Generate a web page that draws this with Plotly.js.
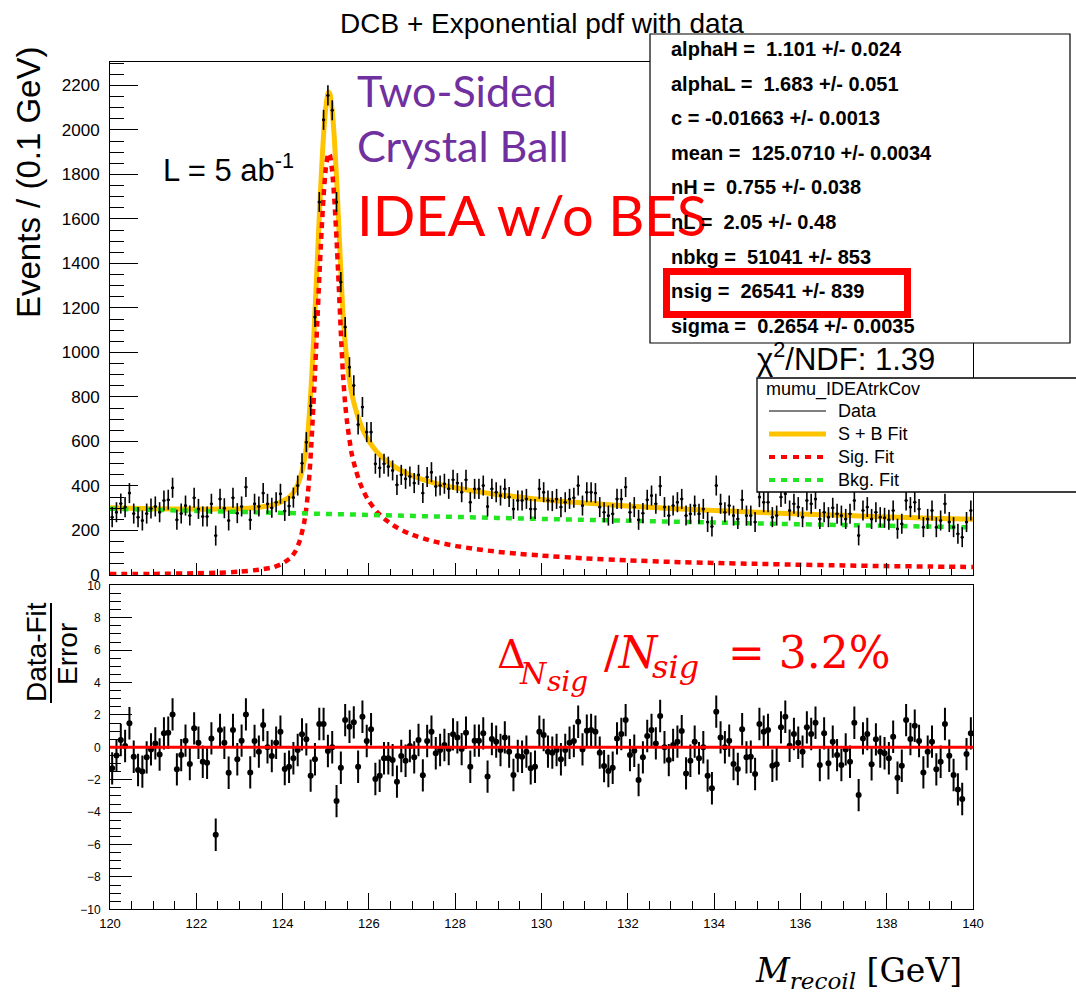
<!DOCTYPE html>
<html><head><meta charset="utf-8">
<script src="https://cdn.plot.ly/plotly-3.0.1.min.js"></script>
<style>html,body{margin:0;padding:0;background:#fff}</style>
</head><body><div id="chart" style="width:1076px;height:993px"></div>
<script>
// ---- data ----
const binStart = 120.05;   // first bin centre (GeV)
const binWidth = 0.1;      // GeV
const eventsData = [
 260,282,321,305,368,276,260,245,276,299,
 308,282,335,338,392,248,276,312,267,347,
 297,263,263,320,177,342,300,245,347,278,
 308,395,248,320,308,368,320,302,327,365,
 288,310,348,402,502,597,760,1159,1676,2045,
 2155,2088,1676,1316,1114,934,852,676,755,642,
 642,500,482,500,487,470,405,450,432,443,
 413,450,368,440,462,398,402,410,387,428,
 413,372,428,327,387,387,402,308,387,372,
 357,387,350,297,335,335,342,297,297,387,
 372,335,332,342,305,327,342,347,402,312,
 372,372,368,305,282,267,275,342,342,395,
 282,305,248,278,338,357,320,400,305,267,
 312,327,342,267,275,312,275,297,238,218,
 402,320,282,312,267,252,338,267,267,238,
 350,327,327,260,267,350,365,290,320,305,
 260,335,320,342,252,282,260,302,275,267,
 252,275,335,178,290,305,252,282,260,257,
 248,290,208,230,335,305,327,297,215,252,
 290,215,245,320,238,215,185,170,238,290];
const dataError = 45;
const pullValues = [
 -1.3,-0.5,0.45,0.08,1.48,-0.58,-1.4,-1.5,-0.62,-0.13,
 0.24,-0.44,0.86,0.9,2.03,-1.36,-0.48,0.41,-1.03,1.17,
 0.28,-0.89,-0.95,0.55,-5.4,1.07,0.28,-1.57,1.07,-0.74,
 0.41,2.03,-1.55,0.39,-0.27,1.38,0,-0.54,0.28,0.96,
 -1.34,-1.2,-0.68,-0.17,0.8,0.49,-1.75,-0.74,1.44,1.44,
 -0.23,0,-3.32,-1.26,1.68,1.27,1.54,-1.2,1.89,0.39,
 1.11,-1.96,-1.76,-0.68,-0.68,-0.79,-2.12,-0.54,-0.83,0.08,
 -0.62,0.45,-1.73,0.39,0.96,-0.37,-0.17,0.14,-0.11,0.8,
 0.61,-0.11,0.9,-1.2,0.41,0.41,0.86,-1.81,0.51,0.35,
 -0.17,0.61,-0.27,-1.71,-0.54,-0.58,-0.27,-1.3,-1.2,0.96,
 0.76,-0.27,-0.33,-0.17,-0.74,-0.17,0.28,0.39,1.58,-0.13,
 1.02,1.07,0.96,-0.33,-1.16,-1.46,-1.26,0.55,0.82,1.68,
 -0.48,-0.21,-2.02,-0.62,0.7,1.07,0.24,1.93,0,-0.79,
 0.14,0.35,1.0,-1.61,-0.83,0.35,-0.68,0,-1.75,-2.53,
 2.2,0.61,0,0.41,-1.03,-1.34,1.11,-0.62,-0.58,-1.65,
 1.44,0.96,1.07,-1.14,-1.05,1.23,1.89,0.1,0.82,0.28,
 -0.27,1.23,0.82,1.52,-1.09,0.86,-0.99,0.35,-0.48,-1.09,
 -0.13,-0.89,1.52,-2.95,0.55,0.82,-1.05,0.49,-0.27,-0.37,
 -0.68,0.65,-1.88,-1.14,1.68,0.51,1.33,0.39,-1.55,-0.27,
 0.35,-1.36,-0.89,1.44,-0.52,-1.71,-2.6,-3.19,-0.42,0.86];
const pullError = 1;
const curveMass = [120,121,122,122.5,123,123.5,123.8,124,124.2,124.3,
 124.4,124.5,124.55,124.6,124.65,124.7,124.75,124.8,124.85,124.9,
 124.95,125,125.05,125.07,125.1,125.15,125.2,125.25,125.3,125.35,
 125.4,125.45,125.5,125.6,125.7,125.8,125.9,126,126.2,126.4,
 126.6,126.8,127,127.5,128,128.5,129,129.5,130,131,
 132,133,134,135,136,137,138,139,140];
const sigCurve = [4,5,8,10,15,25,36,52,80,108,
 155,236,300,395,535,710,905,1120,1335,1535,
 1705,1825,1888,1895,1885,1813,1685,1510,1305,1090,
 898,769,677,546,469,410,366,332,281,246,
 219,198,181,151,131,116,104,95,87,75,
 66,59,54,50,46,43,40,38,36];
const totalCurve = [302,298,296,296,298,306,316,331,358,385,
 432,512,576,671,811,986,1180,1395,1610,1810,
 1980,2099,2162,2169,2159,2087,1958,1783,1578,1363,
 1170,1041,949,818,740,681,636,602,550,514,
 486,464,446,414,392,375,361,350,339,323,
 310,299,290,282,274,268,261,255,250];
const bkgMass = [120,122,124,126,128,130,132,134,136,138,140];
const bkgCurve = [298,288,279,270,261,252,244,236,228,221,214];
const statsLines = ['alphaH =  1.101 +/- 0.024','alphaL =  1.683 +/- 0.051','c = -0.01663 +/- 0.0013',
 'mean =  125.0710 +/- 0.0034','nH =  0.755 +/- 0.038','nL =  2.05 +/- 0.48',
 'nbkg =  51041 +/- 853','nsig =  26541 +/- 839','sigma =  0.2654 +/- 0.0035'];
const legendLabels = ['Data','S + B Fit','Sig. Fit','Bkg. Fit'];

// ---- colours / helpers ----
const W = 1076, H = 993;
const px = x => x / W, py = y => 1 - y / H;
const YEL = '#ffc400', RED = '#ff0000', GRN = '#22e622', PURPLE = '#7030a0';
const SANS = 'Liberation Sans, Arial, sans-serif';

function ann(text, x, y, o) {
  return Object.assign({text, x: px(x), y: py(y), xref: 'paper', yref: 'paper', showarrow: false,
    xanchor: 'left', yanchor: 'middle', borderpad: 0,
    font: {family: SANS, size: 18, color: 'black'}}, o || {});
}
function fnt(size, color, family) { return {family: family || SANS, size, color: color || 'black'}; }

const traces = [
  {x: curveMass, y: totalCurve, xaxis: 'x', yaxis: 'y', mode: 'lines', hoverinfo: 'skip',
   line: {color: YEL, width: 5, shape: 'spline', smoothing: 0.6}},
  {x: curveMass, y: sigCurve, xaxis: 'x', yaxis: 'y', mode: 'lines', hoverinfo: 'skip',
   line: {color: RED, width: 4.5, dash: '6px,5px', shape: 'spline', smoothing: 0.6}},
  {x: bkgMass, y: bkgCurve, xaxis: 'x', yaxis: 'y', mode: 'lines', hoverinfo: 'skip',
   line: {color: GRN, width: 4.5, dash: '6px,6px', shape: 'spline'}},
  {x0: binStart, dx: binWidth, y: eventsData, xaxis: 'x', yaxis: 'y', mode: 'markers',
   marker: {size: 3, color: 'black'},
   error_y: {type: 'constant', value: dataError, thickness: 1.6, width: 0, color: 'black'},
   error_x: {type: 'constant', value: 0.035, thickness: 1.5, width: 0, color: 'black'}},
  {x0: binStart, dx: binWidth, y: pullValues, xaxis: 'x2', yaxis: 'y2', mode: 'markers',
   marker: {size: 6, color: 'black'},
   error_y: {type: 'constant', value: pullError, thickness: 2, width: 0, color: 'black'}}
];

const axCommon = {showgrid: false, zeroline: false, showline: true, linecolor: 'black', linewidth: 1,
  mirror: true, ticks: 'inside', tickcolor: 'black', tickwidth: 1, fixedrange: true};
const xDom = [px(110), px(973)];

const layout = {
  width: W, height: H, margin: {l: 0, r: 0, t: 0, b: 0}, showlegend: false,
  paper_bgcolor: 'white', plot_bgcolor: 'white',
  title: {text: 'DCB + Exponential pdf with data', x: px(542), xanchor: 'center', xref: 'paper',
          y: py(23), yanchor: 'middle', yref: 'paper', font: fnt(28)},
  xaxis: Object.assign({}, axCommon, {domain: xDom, anchor: 'y', range: [120, 140], tick0: 120, dtick: 2,
    ticklen: 12, showticklabels: false, minor: {ticks: 'inside', ticklen: 6, dtick: 0.5, tickcolor: 'black'}}),
  yaxis: Object.assign({}, axCommon, {domain: [py(575), py(62)], anchor: 'x', range: [0, 2305], tick0: 0, dtick: 200,
    ticklen: 28, tickfont: fnt(17), ticklabelstandoff: 6,
    minor: {ticks: 'inside', ticklen: 14, dtick: 50, tickcolor: 'black'}}),
  xaxis2: Object.assign({}, axCommon, {domain: xDom, anchor: 'y2', range: [120, 140], tick0: 120, dtick: 2,
    ticklen: 16, tickfont: fnt(13), ticklabelstandoff: 2,
    minor: {ticks: 'inside', ticklen: 8, dtick: 0.5, tickcolor: 'black'}}),
  yaxis2: Object.assign({}, axCommon, {domain: [py(909.3), py(585.3)], anchor: 'x2', range: [-10, 10], tick0: -10, dtick: 2,
    ticklen: 22, tickfont: fnt(12), ticklabelstandoff: 6,
    minor: {ticks: 'inside', ticklen: 11, dtick: 0.5, tickcolor: 'black'}}),
  shapes: [
    {type: 'line', xref: 'x2', yref: 'y2', x0: 120, x1: 140, y0: 0, y1: 0, line: {color: RED, width: 3}, layer: 'above'},
    {type: 'rect', xref: 'paper', yref: 'paper', x0: px(650), x1: px(1070), y0: py(343), y1: py(34),
     fillcolor: 'white', line: {color: 'black', width: 1.2}, layer: 'above'},
    {type: 'rect', xref: 'paper', yref: 'paper', x0: px(666.5), x1: px(907.5), y0: py(314.5), y1: py(271.5),
     line: {color: RED, width: 7}, layer: 'above'},
    {type: 'rect', xref: 'paper', yref: 'paper', x0: px(757), x1: px(1080), y0: py(492), y1: py(378),
     fillcolor: 'white', line: {color: 'black', width: 1.3}, layer: 'above'},
    {type: 'line', xref: 'paper', yref: 'paper', x0: px(769), x1: px(826), y0: py(411), y1: py(411),
     line: {color: 'black', width: 1}, layer: 'above'},
    {type: 'line', xref: 'paper', yref: 'paper', x0: px(769), x1: px(826), y0: py(434), y1: py(434),
     line: {color: YEL, width: 5}, layer: 'above'},
    {type: 'line', xref: 'paper', yref: 'paper', x0: px(769), x1: px(826), y0: py(457), y1: py(457),
     line: {color: RED, width: 4, dash: '6px,6px'}, layer: 'above'},
    {type: 'line', xref: 'paper', yref: 'paper', x0: px(769), x1: px(826), y0: py(480), y1: py(480),
     line: {color: GRN, width: 4, dash: '6px,6px'}, layer: 'above'},
    {type: 'line', xref: 'paper', yref: 'paper', x0: px(51), x1: px(51), y0: py(703), y1: py(603),
     line: {color: 'black', width: 2}, layer: 'above'}
  ],
  annotations: [
    ann('Events / (0.1 GeV)', 28, 183, {xanchor: 'center', textangle: -90, font: fnt(33)}),
    ann('Data-Fit', 36, 652, {xanchor: 'center', textangle: -90, font: fnt(28)}),
    ann('Error', 67, 654, {xanchor: 'center', textangle: -90, font: fnt(28)}),
    ann('L = 5 ab<sup>-1</sup>', 162, 168, {font: fnt(31)}),
    ann('Two-Sided', 356, 90, {font: fnt(43, PURPLE, 'Lato')}),
    ann('Crystal Ball', 356, 146, {font: fnt(43, PURPLE, 'Lato')}),
    ann('IDEA w/o BES', 356, 215, {font: fnt(56, RED, 'Lato')}),
    ann('χ<sup>2</sup>/NDF: 1.39', 756, 357, {font: fnt(31)}),
    ann('mumu_IDEAtrkCov', 765, 389, {font: fnt(18)}),
    // pull-plot label Δ_{N_sig}/N_sig = 3.2%
    ann('Δ', 496, 654, {font: fnt(40, RED, 'DejaVu Serif')}),
    ann('<i>N</i>', 518, 673, {font: fnt(30, RED, 'DejaVu Serif')}),
    ann('<i>sig</i>', 546, 681, {font: fnt(28, RED, 'DejaVu Serif')}),
    ann('/<i>N</i>', 603, 652, {font: fnt(44, RED, 'DejaVu Serif')}),
    ann('<i>sig</i>', 651, 667, {font: fnt(32, RED, 'DejaVu Serif')}),
    ann('= 3.2%', 727, 652, {font: fnt(44, RED, 'DejaVu Serif')}),
    ann('<i>M</i><sub><i>recoil</i></sub> [GeV]', 754, 972, {font: fnt(33, 'black', 'DejaVu Serif')})
  ]
};
statsLines.forEach((t, k) => layout.annotations.push(ann('<b>' + t + '</b>', 670, 49 + 34.6 * k, {font: fnt(20)})));
legendLabels.forEach((t, k) => layout.annotations.push(ann(t, 837, 411 + 23 * k, {font: fnt(18)})));

Plotly.newPlot('chart', traces, layout, {displayModeBar: false, staticPlot: true});
</script></body></html>
